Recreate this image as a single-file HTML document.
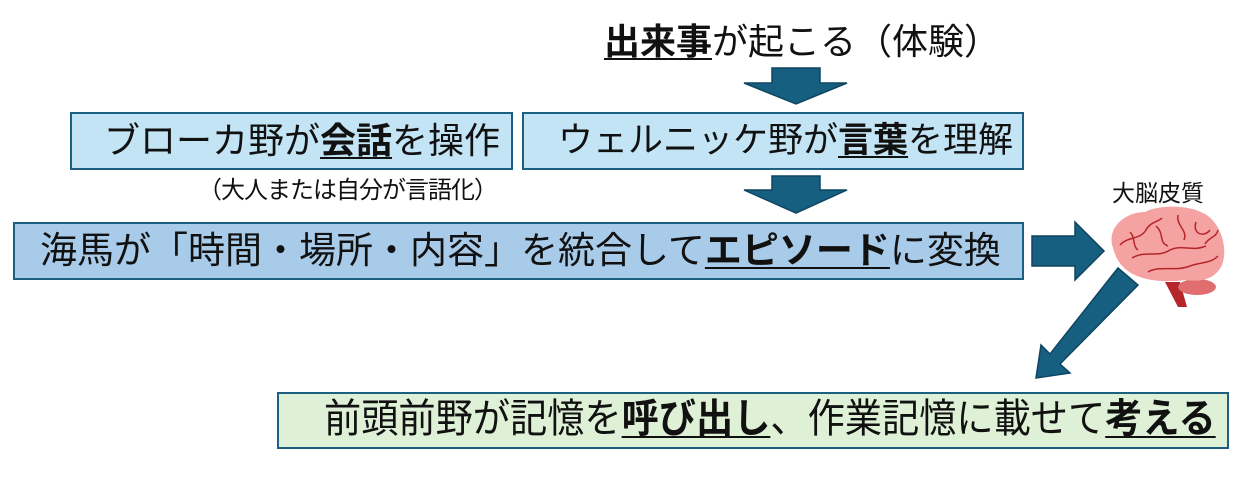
<!DOCTYPE html>
<html><head><meta charset="utf-8"><style>
body{margin:0;width:1258px;height:491px;background:#fff;position:relative;overflow:hidden;font-family:"Liberation Sans","Noto Sans CJK JP",sans-serif;color:#111}
.box{position:absolute;box-sizing:border-box;border:2px solid #1d5f80}
.t{position:absolute;white-space:nowrap;line-height:1}
u{text-decoration-thickness:2px;text-underline-offset:4px}
b{font-weight:bold}
</style></head><body>
<div class="t" style="left:604px;top:24px;font-size:36px"><u><b>出来事</b></u>が起こる（体験）</div>

<div class="box" style="left:70px;top:112px;width:443px;height:58px;background:#c3e4f4"></div>
<div class="t" style="left:104px;top:123px;font-size:36px">ブローカ野が<u><b>会話</b></u>を操作</div>
<div class="t" style="left:198px;top:179px;font-size:24px;letter-spacing:-1px">（大人または自分が言語化）</div>

<div class="box" style="left:522px;top:112px;width:502px;height:58px;background:#c3e4f4"></div>
<div class="t" style="left:558px;top:123px;font-size:35px">ウェルニッケ野が<u><b>言葉</b></u>を理解</div>

<div class="box" style="left:13px;top:222px;width:1011px;height:58px;background:#a8cbea"></div>
<div class="t" style="left:40px;top:232px;font-size:37px">海馬が「時間・場所・内容」を統合して<u><b>エピソード</b></u>に変換</div>

<div class="box" style="left:277px;top:392px;width:952px;height:57px;background:#def1d6"></div>
<div class="t" style="left:324px;top:399px;font-size:40px;transform:scaleX(0.93);transform-origin:left top">前頭前野が記憶を<u><b>呼び出し</b></u>、作業記憶に載せて<u><b>考える</b></u></div>

<div class="t" style="left:1112px;top:182px;font-size:23px">大脳皮質</div>

<svg width="1258" height="491" style="position:absolute;left:0;top:0">
<g fill="#175f80" stroke="#0f4560" stroke-width="1.5">
<polygon points="772,68 820,68 820,83 847,83 796,104 744,83 772,83"/>
<polygon points="772,176 820,176 820,190 847,190 796,213 744,190 772,190"/>
<polygon points="1032,236 1075,236 1075,222 1104,251 1075,280 1075,266 1032,266"/>
<polygon points="1118,268 1138,285 1060,364 1070,373 1036,378 1041,345 1050,354"/>
</g>
<path d="M1165,282 L1180,282 L1187,307 L1178,307Z" fill="#b5262b"/>
<ellipse cx="1197" cy="287" rx="19" ry="8" fill="#e06e70"/>
<path d="M1113,248 C1106,228 1125,212 1145,212 C1160,204 1190,205 1205,214 C1222,224 1228,250 1222,265 C1215,280 1200,282 1185,280 C1170,282 1150,282 1135,275 C1120,268 1116,258 1113,248Z" fill="#f4a2a2"/>
<g fill="none" stroke="#b5262b" stroke-width="1.5">
<path d="M1120,245 C1128,236 1140,240 1146,230 C1150,222 1158,222 1162,218"/>
<path d="M1132,258 C1145,250 1158,258 1170,250 C1182,244 1192,252 1206,246"/>
<path d="M1148,272 C1160,265 1175,272 1190,266 C1200,262 1210,264 1218,256"/>
<path d="M1156,226 C1165,234 1158,242 1168,246"/>
<path d="M1178,215 C1176,226 1188,230 1184,240"/>
<path d="M1196,222 C1192,234 1204,238 1210,230"/>
<path d="M1205,244 C1210,236 1216,238 1218,230"/>
<path d="M1130,232 C1136,238 1132,246 1138,250"/>
</g>
</svg>
</body></html>
